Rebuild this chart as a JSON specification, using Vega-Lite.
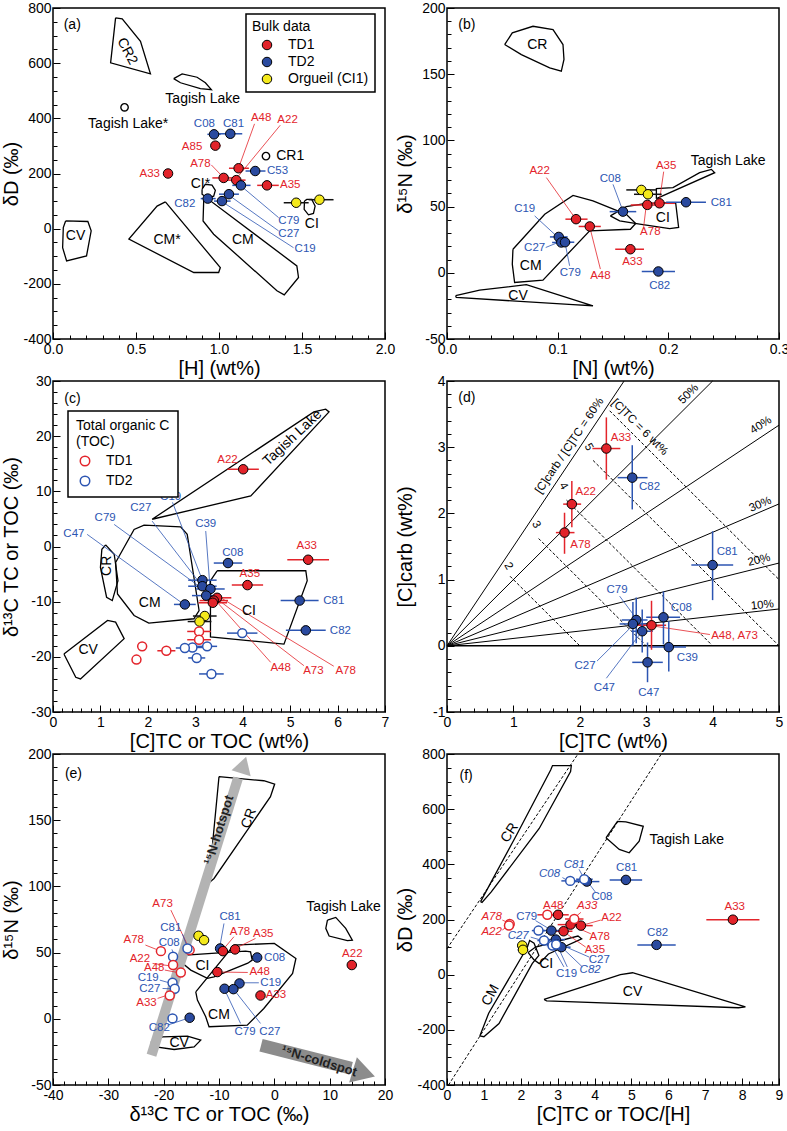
{
"$schema":"https://vega.github.io/schema/vega-lite/v6.json",
"background":"white",
"padding":{"left":0,"top":0,"right":0,"bottom":0},
"config":{
 "font":"Liberation Sans",
 "view":{"stroke":"black","strokeWidth":1.5},
 "axis":{"grid":false,"domain":false,"labelOverlap":false,"labelFlush":false,"tickSize":-7,"tickColor":"black","tickWidth":1,"labelFont":"Liberation Sans","labelFontSize":14,"labelColor":"black","titleFont":"Liberation Sans","titleFontSize":20,"titleFontWeight":"normal","titleColor":"black"},
 "axisX":{"labelPadding":10,"titlePadding":4,"minExtent":15,"maxExtent":15},
 "axisY":{"labelPadding":9,"titlePadding":0,"minExtent":32,"maxExtent":32},
 "legend":{"labelFont":"Liberation Sans","titleFont":"Liberation Sans","labelFontSize":14,"titleFontSize":14,"titleFontWeight":"normal","labelColor":"black","titleColor":"black","strokeWidth":1.5},
 "text":{"font":"Liberation Sans"}
},
"datasets":{
"poly":[
{"p":"a","r":"CR2","x":0.377,"y":764},{"p":"a","r":"CR2","x":0.347,"y":601},{"p":"a","r":"CR2","x":0.587,"y":561},{"p":"a","r":"CR2","x":0.527,"y":679},{"p":"a","r":"CR2","x":0.417,"y":761},{"p":"a","r":"CR2","x":0.377,"y":764},
{"p":"a","r":"TL","x":0.727,"y":544},{"p":"a","r":"TL","x":0.778,"y":561},{"p":"a","r":"TL","x":0.868,"y":549},{"p":"a","r":"TL","x":0.918,"y":529},{"p":"a","r":"TL","x":0.954,"y":504},{"p":"a","r":"TL","x":0.888,"y":508},{"p":"a","r":"TL","x":0.768,"y":529},{"p":"a","r":"TL","x":0.727,"y":544},
{"p":"a","r":"CV","x":0.076,"y":28},{"p":"a","r":"CV","x":0.21,"y":26},{"p":"a","r":"CV","x":0.23,"y":-8},{"p":"a","r":"CV","x":0.202,"y":-99},{"p":"a","r":"CV","x":0.082,"y":-117},{"p":"a","r":"CV","x":0.058,"y":-69},{"p":"a","r":"CV","x":0.062,"y":4},{"p":"a","r":"CV","x":0.076,"y":28},
{"p":"a","r":"CMs","x":0.677,"y":97},{"p":"a","r":"CMs","x":1.008,"y":-141},{"p":"a","r":"CMs","x":0.998,"y":-159},{"p":"a","r":"CMs","x":0.848,"y":-159},{"p":"a","r":"CMs","x":0.457,"y":-38},{"p":"a","r":"CMs","x":0.627,"y":82},{"p":"a","r":"CMs","x":0.677,"y":97},
{"p":"a","r":"CM","x":0.908,"y":106},{"p":"a","r":"CM","x":0.944,"y":103},{"p":"a","r":"CM","x":1.469,"y":-135},{"p":"a","r":"CM","x":1.479,"y":-177},{"p":"a","r":"CM","x":1.393,"y":-240},{"p":"a","r":"CM","x":1.349,"y":-225},{"p":"a","r":"CM","x":0.968,"y":-20},{"p":"a","r":"CM","x":0.904,"y":28},{"p":"a","r":"CM","x":0.908,"y":106},
{"p":"a","r":"CIs","x":0.898,"y":143},{"p":"a","r":"CIs","x":0.918,"y":161},{"p":"a","r":"CIs","x":0.958,"y":158},{"p":"a","r":"CIs","x":0.978,"y":139},{"p":"a","r":"CIs","x":0.968,"y":118},{"p":"a","r":"CIs","x":0.928,"y":112},{"p":"a","r":"CIs","x":0.898,"y":125},{"p":"a","r":"CIs","x":0.898,"y":143},
{"p":"a","r":"CI","x":1.515,"y":100},{"p":"a","r":"CI","x":1.529,"y":106},{"p":"a","r":"CI","x":1.559,"y":106},{"p":"a","r":"CI","x":1.579,"y":82},{"p":"a","r":"CI","x":1.569,"y":55},{"p":"a","r":"CI","x":1.539,"y":50},{"p":"a","r":"CI","x":1.513,"y":70},{"p":"a","r":"CI","x":1.515,"y":100},
{"p":"b","r":"CR","x":0.0521,"y":172.4},{"p":"b","r":"CR","x":0.059,"y":181.2},{"p":"b","r":"CR","x":0.0777,"y":186.2},{"p":"b","r":"CR","x":0.0958,"y":183.7},{"p":"b","r":"CR","x":0.1048,"y":172.4},{"p":"b","r":"CR","x":0.1057,"y":161.1},{"p":"b","r":"CR","x":0.1033,"y":152.3},{"p":"b","r":"CR","x":0.0928,"y":154.8},{"p":"b","r":"CR","x":0.0672,"y":164.8},{"p":"b","r":"CR","x":0.0521,"y":172.4},
{"p":"b","r":"TL","x":0.1892,"y":56},{"p":"b","r":"TL","x":0.2419,"y":75.6},{"p":"b","r":"TL","x":0.2389,"y":78.1},{"p":"b","r":"TL","x":0.2283,"y":75.6},{"p":"b","r":"TL","x":0.2042,"y":64.3},{"p":"b","r":"TL","x":0.1892,"y":63.6},{"p":"b","r":"TL","x":0.1892,"y":56},
{"p":"b","r":"CI","x":0.1476,"y":43},{"p":"b","r":"CI","x":0.162,"y":50},{"p":"b","r":"CI","x":0.18,"y":52.5},{"p":"b","r":"CI","x":0.2066,"y":53},{"p":"b","r":"CI","x":0.2093,"y":34.2},{"p":"b","r":"CI","x":0.2012,"y":33.4},{"p":"b","r":"CI","x":0.1741,"y":36.7},{"p":"b","r":"CI","x":0.156,"y":39.2},{"p":"b","r":"CI","x":0.1476,"y":43},
{"p":"b","r":"CM","x":0.0596,"y":17.8},{"p":"b","r":"CM","x":0.0883,"y":44.2},{"p":"b","r":"CM","x":0.1139,"y":58.5},{"p":"b","r":"CM","x":0.1319,"y":54.3},{"p":"b","r":"CM","x":0.162,"y":44.2},{"p":"b","r":"CM","x":0.1705,"y":37.2},{"p":"b","r":"CM","x":0.1657,"y":32.9},{"p":"b","r":"CM","x":0.1289,"y":31.7},{"p":"b","r":"CM","x":0.0867,"y":-5.5},{"p":"b","r":"CM","x":0.0611,"y":-7.3},{"p":"b","r":"CM","x":0.059,"y":6.5},{"p":"b","r":"CM","x":0.0596,"y":17.8},
{"p":"b","r":"CV","x":0.0078,"y":-17.3},{"p":"b","r":"CV","x":0.0295,"y":-13.1},{"p":"b","r":"CV","x":0.0717,"y":-9},{"p":"b","r":"CV","x":0.1319,"y":-24.9},{"p":"b","r":"CV","x":0.1139,"y":-24.1},{"p":"b","r":"CV","x":0.0084,"y":-18.6},{"p":"b","r":"CV","x":0.0078,"y":-17.3},
{"p":"c","r":"TL","x":2.09,"y":4.94},{"p":"c","r":"TL","x":5.5,"y":24.4},{"p":"c","r":"TL","x":5.75,"y":24.9},{"p":"c","r":"TL","x":5.82,"y":24.4},{"p":"c","r":"TL","x":4.17,"y":9.16},{"p":"c","r":"TL","x":2.09,"y":4.94},
{"p":"c","r":"CM","x":1.32,"y":-2.9},{"p":"c","r":"CM","x":1.71,"y":3.1},{"p":"c","r":"CM","x":1.92,"y":3.86},{"p":"c","r":"CM","x":2.69,"y":3.55},{"p":"c","r":"CM","x":2.83,"y":2.2},{"p":"c","r":"CM","x":3.08,"y":-11.6},{"p":"c","r":"CM","x":2.97,"y":-13.1},{"p":"c","r":"CM","x":2.02,"y":-13.9},{"p":"c","r":"CM","x":1.71,"y":-12.5},{"p":"c","r":"CM","x":1.36,"y":-8.6},{"p":"c","r":"CM","x":1.32,"y":-2.9},
{"p":"c","r":"CR","x":1.11,"y":0.3},{"p":"c","r":"CR","x":1.29,"y":-1.4},{"p":"c","r":"CR","x":1.37,"y":-6.2},{"p":"c","r":"CR","x":1.25,"y":-9.8},{"p":"c","r":"CR","x":1.13,"y":-9.2},{"p":"c","r":"CR","x":1,"y":-3.8},{"p":"c","r":"CR","x":1.03,"y":-0.5},{"p":"c","r":"CR","x":1.11,"y":0.3},
{"p":"c","r":"CI","x":3.46,"y":-4.4},{"p":"c","r":"CI","x":5.33,"y":-4.4},{"p":"c","r":"CI","x":5.36,"y":-6.2},{"p":"c","r":"CI","x":4.87,"y":-17.7},{"p":"c","r":"CI","x":3.32,"y":-16.4},{"p":"c","r":"CI","x":3.32,"y":-6.2},{"p":"c","r":"CI","x":3.46,"y":-4.4},
{"p":"c","r":"CV","x":0.23,"y":-19.5},{"p":"c","r":"CV","x":1.15,"y":-13.4},{"p":"c","r":"CV","x":1.32,"y":-13.7},{"p":"c","r":"CV","x":1.5,"y":-16.7},{"p":"c","r":"CV","x":0.58,"y":-24},{"p":"c","r":"CV","x":0.48,"y":-23.7},{"p":"c","r":"CV","x":0.23,"y":-19.5},
{"p":"e","r":"CR","x":-10,"y":182.9},{"p":"e","r":"CR","x":-1.9,"y":179.8},{"p":"e","r":"CR","x":0.06,"y":177.3},{"p":"e","r":"CR","x":-0.7,"y":167.8},{"p":"e","r":"CR","x":-10.9,"y":106},{"p":"e","r":"CR","x":-11.8,"y":102.8},{"p":"e","r":"CR","x":-11.5,"y":117.4},{"p":"e","r":"CR","x":-10,"y":182.9},
{"p":"e","r":"TL","x":9.6,"y":74.6},{"p":"e","r":"TL","x":11.1,"y":76.6},{"p":"e","r":"TL","x":12.9,"y":68.3},{"p":"e","r":"TL","x":14.1,"y":59.4},{"p":"e","r":"TL","x":13.2,"y":59},{"p":"e","r":"TL","x":9.9,"y":62.5},{"p":"e","r":"TL","x":9.3,"y":68.3},{"p":"e","r":"TL","x":9.6,"y":74.6},
{"p":"e","r":"CI","x":-16.7,"y":42.3},{"p":"e","r":"CI","x":-16,"y":48.1},{"p":"e","r":"CI","x":-5.2,"y":51.1},{"p":"e","r":"CI","x":-4.3,"y":50.6},{"p":"e","r":"CI","x":-4,"y":44.3},{"p":"e","r":"CI","x":-4.8,"y":42},{"p":"e","r":"CI","x":-10.9,"y":31.7},{"p":"e","r":"CI","x":-12.1,"y":30.5},{"p":"e","r":"CI","x":-15.1,"y":36.8},{"p":"e","r":"CI","x":-16.7,"y":42.3},
{"p":"e","r":"CM","x":-14.2,"y":20.4},{"p":"e","r":"CM","x":-7.3,"y":55.7},{"p":"e","r":"CM","x":0,"y":56.9},{"p":"e","r":"CM","x":3.9,"y":45.6},{"p":"e","r":"CM","x":3.3,"y":34.3},{"p":"e","r":"CM","x":-1.9,"y":7.8},{"p":"e","r":"CM","x":-4.9,"y":-4.8},{"p":"e","r":"CM","x":-11.8,"y":-6},{"p":"e","r":"CM","x":-12.4,"y":1.5},{"p":"e","r":"CM","x":-13.9,"y":14.1},{"p":"e","r":"CM","x":-14.2,"y":20.4},
{"p":"e","r":"CV","x":-22.3,"y":-17.4},{"p":"e","r":"CV","x":-20.2,"y":-13.6},{"p":"e","r":"CV","x":-15.7,"y":-13.1},{"p":"e","r":"CV","x":-13.3,"y":-16.1},{"p":"e","r":"CV","x":-14.5,"y":-21.2},{"p":"e","r":"CV","x":-18.1,"y":-23.2},{"p":"e","r":"CV","x":-21.4,"y":-21.2},{"p":"e","r":"CV","x":-22.3,"y":-17.4},
{"p":"f","r":"CR","x":0.91,"y":265},{"p":"f","r":"CR","x":1.9,"y":510},{"p":"f","r":"CR","x":2.81,"y":742},{"p":"f","r":"CR","x":2.86,"y":758},{"p":"f","r":"CR","x":3.37,"y":758},{"p":"f","r":"CR","x":3.35,"y":736},{"p":"f","r":"CR","x":2.5,"y":530},{"p":"f","r":"CR","x":1.2,"y":300},{"p":"f","r":"CR","x":0.95,"y":262},{"p":"f","r":"CR","x":0.91,"y":265},
{"p":"f","r":"CM","x":0.89,"y":-222},{"p":"f","r":"CM","x":1.13,"y":-140},{"p":"f","r":"CM","x":2.18,"y":100},{"p":"f","r":"CM","x":2.24,"y":124},{"p":"f","r":"CM","x":2.36,"y":114},{"p":"f","r":"CM","x":2.49,"y":70},{"p":"f","r":"CM","x":2.31,"y":40},{"p":"f","r":"CM","x":1.41,"y":-177},{"p":"f","r":"CM","x":1,"y":-225},{"p":"f","r":"CM","x":0.89,"y":-222},
{"p":"f","r":"CI","x":2.2,"y":80},{"p":"f","r":"CI","x":2.4,"y":100},{"p":"f","r":"CI","x":3.55,"y":140},{"p":"f","r":"CI","x":3.65,"y":130},{"p":"f","r":"CI","x":2.75,"y":75},{"p":"f","r":"CI","x":2.5,"y":40},{"p":"f","r":"CI","x":2.35,"y":55},{"p":"f","r":"CI","x":2.2,"y":80},
{"p":"f","r":"TL","x":4.31,"y":496},{"p":"f","r":"TL","x":4.62,"y":556},{"p":"f","r":"TL","x":4.85,"y":554},{"p":"f","r":"TL","x":5.32,"y":538},{"p":"f","r":"TL","x":5.21,"y":484},{"p":"f","r":"TL","x":4.94,"y":442},{"p":"f","r":"TL","x":4.67,"y":454},{"p":"f","r":"TL","x":4.31,"y":496},
{"p":"f","r":"CV","x":2.63,"y":-90},{"p":"f","r":"CV","x":4.7,"y":0},{"p":"f","r":"CV","x":5.03,"y":7},{"p":"f","r":"CV","x":8.09,"y":-117},{"p":"f","r":"CV","x":7.9,"y":-120},{"p":"f","r":"CV","x":2.7,"y":-95},{"p":"f","r":"CV","x":2.63,"y":-90}
],
"mk":[{"p":"a","x":1.283,"y":263},{"p":"a","x":0.431,"y":440}],
"seg":[
{"p":"a","g":"TD1","x":1.214,"y":380,"x2":1.122,"y2":227},{"p":"a","g":"TD1","x":1.369,"y":375,"x2":1.112,"y2":187},{"p":"a","g":"TD1","x":0.954,"y":231,"x2":1.018,"y2":191},{"p":"a","g":"TD2","x":1.359,"y":40,"x2":1.144,"y2":149},{"p":"a","g":"TD2","x":1.359,"y":-8,"x2":1.072,"y2":116},{"p":"a","g":"TD2","x":1.449,"y":-69,"x2":1.028,"y2":94},
{"p":"b","g":"TD1","x":0.0898,"y":71.9,"x2":0.1154,"y2":41.7},{"p":"b","g":"TD2","x":0.15,"y":66.8,"x2":0.1584,"y2":48},{"p":"b","g":"TD1","x":0.1958,"y":76.4,"x2":0.192,"y2":54.3},{"p":"b","g":"TD2","x":0.0792,"y":43,"x2":0.0988,"y2":27.9},{"p":"b","g":"TD1","x":0.1777,"y":34.7,"x2":0.18,"y2":50.5},{"p":"b","g":"TD2","x":0.0892,"y":19.1,"x2":0.1003,"y2":22.9},{"p":"b","g":"TD2","x":0.1108,"y":5.3,"x2":0.1069,"y2":21.6},{"p":"b","g":"TD1","x":0.1386,"y":2.8,"x2":0.1295,"y2":32.9},
{"p":"c","g":"TD2","x":2.52,"y":8,"x2":3.14,"y2":-5.9},{"p":"c","g":"TD2","x":2.09,"y":4.6,"x2":3.11,"y2":-6.8},{"p":"c","g":"TD2","x":1.29,"y":4,"x2":3.11,"y2":-7.4},{"p":"c","g":"TD2","x":0.72,"y":2.2,"x2":2.73,"y2":-10.3},{"p":"c","g":"TD2","x":3.22,"y":2.8,"x2":3.31,"y2":-7.4},{"p":"c","g":"TD1","x":4.59,"y":-21,"x2":3.43,"y2":-9.8},{"p":"c","g":"TD1","x":5.29,"y":-21.6,"x2":3.46,"y2":-9.5},{"p":"c","g":"TD1","x":5.92,"y":-21.7,"x2":3.5,"y2":-9.1},
{"p":"d","g":"TD2","x":2.6,"y":0.75,"x2":2.83,"y2":0.44},{"p":"d","g":"TD1","x":3.96,"y":0.17,"x2":3.1,"y2":0.3},{"p":"d","g":"TD2","x":2.26,"y":-0.23,"x2":2.78,"y2":0.29},{"p":"d","g":"TD2","x":2.4,"y":-0.49,"x2":2.9,"y2":0.17},
{"p":"e","g":"TD1","x":-18.7,"y":82.1,"x2":-15.4,"y2":53.1},{"p":"e","g":"TD2","x":-16.6,"y":64,"x2":-15.8,"y2":54.9},{"p":"e","g":"TD1","x":-23.3,"y":55.7,"x2":-21.3,"y2":52.4},{"p":"e","g":"TD2","x":-18.5,"y":52.4,"x2":-18.2,"y2":49},{"p":"e","g":"TD1","x":-22,"y":41.8,"x2":-19,"y2":40.1},{"p":"e","g":"TD1","x":-19.8,"y":36.8,"x2":-17.5,"y2":35},{"p":"e","g":"TD2","x":-20.7,"y":29.2,"x2":-19,"y2":27.2},{"p":"e","g":"TD2","x":-20.2,"y":22.9,"x2":-18.7,"y2":22.7},{"p":"e","g":"TD1","x":-21.1,"y":15.4,"x2":-19.5,"y2":17.6},{"p":"e","g":"TD2","x":-19.3,"y":-4.8,"x2":-15.7,"y2":0.3},{"p":"e","g":"TD2","x":-9.1,"y":72,"x2":-9.8,"y2":55.7},{"p":"e","g":"TD1","x":-7.3,"y":62,"x2":-9.1,"y2":53.1},{"p":"e","g":"TD1","x":-3.4,"y":60.7,"x2":-6.7,"y2":53.9},{"p":"e","g":"TD1","x":-4.8,"y":35,"x2":-9.7,"y2":35.3},{"p":"e","g":"TD2","x":-2.8,"y":27.2,"x2":-5.5,"y2":27.2},{"p":"e","g":"TD2","x":-6.1,"y":-3.5,"x2":-8.8,"y2":20.4},{"p":"e","g":"TD2","x":-2.5,"y":-3.5,"x2":-7,"y2":20.4},
{"p":"f","g":"TD2","x":3.58,"y":382,"x2":3.7,"y2":352},{"p":"f","g":"TD2","x":3.13,"y":352,"x2":3.26,"y2":342},{"p":"f","g":"TD2","x":4.03,"y":298,"x2":3.85,"y2":330},{"p":"f","g":"TD1","x":3.63,"y":226,"x2":3.47,"y2":208},{"p":"f","g":"TD1","x":4.17,"y":198,"x2":3.72,"y2":181},{"p":"f","g":"TD1","x":1.5,"y":198,"x2":1.63,"y2":190},{"p":"f","g":"TD1","x":1.5,"y":162,"x2":1.63,"y2":174},{"p":"f","g":"TD2","x":2.4,"y":196,"x2":2.77,"y2":166},{"p":"f","g":"TD1","x":3.9,"y":148,"x2":3.49,"y2":172},{"p":"f","g":"TD2","x":2.27,"y":136,"x2":2.58,"y2":124},{"p":"f","g":"TD1","x":3.76,"y":100,"x2":3.22,"y2":150},{"p":"f","g":"TD2","x":3.85,"y":64,"x2":3.13,"y2":106},{"p":"f","g":"TD2","x":3.67,"y":28,"x2":3.13,"y2":97},{"p":"f","g":"TD2","x":3.17,"y":28,"x2":2.86,"y2":100},{"p":"f","g":"TD2","x":3.26,"y":28,"x2":2.99,"y2":106}
],
"errh":[
{"p":"a","g":"TD2","y":342,"x":0.93,"x2":1.01},{"p":"a","g":"TD2","y":344,"x":1.0,"x2":1.14},{"p":"a","g":"TD1","y":301,"x":0.95,"x2":1.01},{"p":"a","g":"TD1","y":219,"x":1.06,"x2":1.18},{"p":"a","g":"TD2","y":209,"x":1.16,"x2":1.28},{"p":"a","g":"TD1","y":184,"x":0.96,"x2":1.1},{"p":"a","g":"TD1","y":176,"x":1.05,"x2":1.16},{"p":"a","g":"TD1","y":157,"x":1.23,"x2":1.36},{"p":"a","g":"TD2","y":157,"x":1.08,"x2":1.19},{"p":"a","g":"TD2","y":125,"x":1.0,"x2":1.12},{"p":"a","g":"TD2","y":100,"x":0.97,"x2":1.07},{"p":"a","g":"TD2","y":109,"x":0.89,"x2":0.98},{"p":"a","g":"Orgueil (CI1)","y":94,"x":1.39,"x2":1.54},{"p":"a","g":"Orgueil (CI1)","y":105,"x":1.54,"x2":1.69},
{"p":"b","g":"Orgueil (CI1)","y":62.6,"x":0.162,"x2":0.189},{"p":"b","g":"Orgueil (CI1)","y":59.3,"x":0.169,"x2":0.194},{"p":"b","g":"TD1","y":51.3,"x":0.166,"x2":0.195},{"p":"b","g":"TD1","y":52.5,"x":0.178,"x2":0.206},{"p":"b","g":"TD2","y":53.3,"x":0.198,"x2":0.234},{"p":"b","g":"TD2","y":46.2,"x":0.147,"x2":0.171},{"p":"b","g":"TD1","y":40.5,"x":0.107,"x2":0.127},{"p":"b","g":"TD1","y":35,"x":0.119,"x2":0.139},{"p":"b","g":"TD2","y":27.1,"x":0.093,"x2":0.109},{"p":"b","g":"TD2","y":22.9,"x":0.095,"x2":0.112},{"p":"b","g":"TD2","y":23.1,"x":0.098,"x2":0.115},{"p":"b","g":"TD1","y":17.8,"x":0.152,"x2":0.178},{"p":"b","g":"TD2","y":1,"x":0.176,"x2":0.206},
{"p":"c","g":"TD1","y":14,"x":3.68,"x2":4.34},{"p":"c","g":"TD1","y":-2.4,"x":4.94,"x2":5.82},{"p":"c","g":"TD1","y":-7,"x":3.77,"x2":4.43},{"p":"c","g":"TD2","y":-3,"x":3.39,"x2":3.99},{"p":"c","g":"TD2","y":-9.8,"x":4.8,"x2":5.6},{"p":"c","g":"TD2","y":-15.2,"x":4.91,"x2":5.75},{"p":"c","g":"TD2","y":-10.5,"x":2.55,"x2":3.01},{"p":"c","g":"TD2","y":-6.1,"x":2.85,"x2":3.45},{"p":"c","g":"TD2","y":-7.2,"x":2.85,"x2":3.45},{"p":"c","g":"TD2","y":-7.7,"x":3.02,"x2":3.62},{"p":"c","g":"TD2","y":-8.9,"x":2.93,"x2":3.53},{"p":"c","g":"TD1","y":-9.3,"x":3.16,"x2":3.76},{"p":"c","g":"TD1","y":-9.8,"x":3.09,"x2":3.69},{"p":"c","g":"TD1","y":-10.2,"x":3.07,"x2":3.67},{"p":"c","g":"Orgueil (CI1)","y":-12.6,"x":2.95,"x2":3.45},{"p":"c","g":"Orgueil (CI1)","y":-13.6,"x":2.84,"x2":3.34},
{"p":"c","g":"TD1","y":-15.4,"x":2.83,"x2":3.33},{"p":"c","g":"TD1","y":-16.9,"x":2.83,"x2":3.33},{"p":"c","g":"TD1","y":-18.1,"x":1.8,"x2":1.96},{"p":"c","g":"TD1","y":-18.9,"x":2.2,"x2":2.58},{"p":"c","g":"TD1","y":-20.5,"x":1.68,"x2":1.84},{"p":"c","g":"TD2","y":-15.7,"x":3.67,"x2":4.31},{"p":"c","g":"TD2","y":-18.1,"x":3.04,"x2":3.46},{"p":"c","g":"TD2","y":-18.3,"x":2.7,"x2":3.18},{"p":"c","g":"TD2","y":-18.4,"x":2.59,"x2":2.97},{"p":"c","g":"TD2","y":-20.2,"x":2.85,"x2":3.21},{"p":"c","g":"TD2","y":-23.1,"x":3.08,"x2":3.6},
{"p":"d","g":"TD1","y":2.98,"x":2.19,"x2":2.61},{"p":"d","g":"TD2","y":2.54,"x":2.57,"x2":3.02},{"p":"d","g":"TD1","y":2.14,"x":1.75,"x2":2.02},{"p":"d","g":"TD1","y":1.71,"x":1.64,"x2":1.92},{"p":"d","g":"TD2","y":1.22,"x":3.68,"x2":4.31},{"p":"d","g":"TD2","y":0.39,"x":2.63,"x2":3.02},{"p":"d","g":"TD2","y":0.33,"x":2.6,"x2":3.0},{"p":"d","g":"TD2","y":0.43,"x":3.0,"x2":3.51},{"p":"d","g":"TD1","y":0.31,"x":2.8,"x2":3.3},{"p":"d","g":"TD2","y":0.22,"x":2.78,"x2":3.1},{"p":"d","g":"TD2","y":-0.02,"x":3.05,"x2":3.6},{"p":"d","g":"TD2","y":-0.25,"x":2.79,"x2":3.25},
{"p":"f","g":"TD1","y":199.4,"x":7.03,"x2":8.47},{"p":"f","g":"TD2","y":108,"x":5.16,"x2":6.2},{"p":"f","g":"TD2","y":343.5,"x":4.41,"x2":5.29},{"p":"f","g":"TD2","y":337.5,"x":3.45,"x2":4.13},{"p":"f","g":"TD1","y":217,"x":2.75,"x2":3.3},{"p":"f","g":"TD1","y":181.4,"x":3.0,"x2":3.7},{"p":"f","g":"TD1","y":177.8,"x":3.3,"x2":3.95},{"p":"f","g":"TD1","y":157.4,"x":2.9,"x2":3.4},{"p":"f","g":"TD2","y":159.8,"x":2.6,"x2":3.05},{"p":"f","g":"TD2","y":127.3,"x":2.7,"x2":3.2},{"p":"f","g":"TD2","y":109.3,"x":2.75,"x2":3.2},{"p":"f","g":"TD2","y":99.7,"x":2.85,"x2":3.35},{"p":"f","g":"Orgueil (CI1)","y":105.7,"x":1.9,"x2":2.18},{"p":"f","g":"Orgueil (CI1)","y":90.1,"x":1.92,"x2":2.2},
{"p":"f","g":"TD2","y":340,"x":3.1,"x2":3.6},{"p":"f","g":"TD2","y":346,"x":3.5,"x2":3.95},{"p":"f","g":"TD1","y":217,"x":2.45,"x2":2.95},{"p":"f","g":"TD1","y":201.8,"x":3.2,"x2":3.7},{"p":"f","g":"TD1","y":183.8,"x":1.6,"x2":1.8},{"p":"f","g":"TD2","y":159.8,"x":2.3,"x2":2.65},{"p":"f","g":"TD2","y":123.7,"x":2.45,"x2":2.8},{"p":"f","g":"TD2","y":105.7,"x":2.7,"x2":3.0}
],
"errv":[
{"p":"d","g":"TD1","x":2.4,"y":2.51,"y2":3.45},{"p":"d","g":"TD2","x":2.79,"y":2.06,"y2":3.03},{"p":"d","g":"TD1","x":1.88,"y":1.79,"y2":2.49},{"p":"d","g":"TD1","x":1.77,"y":1.39,"y2":2.01},{"p":"d","g":"TD2","x":4.0,"y":0.69,"y2":1.73},{"p":"d","g":"TD2","x":2.85,"y":0.04,"y2":0.73},{"p":"d","g":"TD2","x":2.8,"y":0.0,"y2":0.66},{"p":"d","g":"TD2","x":3.26,"y":0.02,"y2":0.82},{"p":"d","g":"TD1","x":3.08,"y":-0.06,"y2":0.68},{"p":"d","g":"TD2","x":2.94,"y":-0.1,"y2":0.55},{"p":"d","g":"TD2","x":3.34,"y":-0.39,"y2":0.37},{"p":"d","g":"TD2","x":3.02,"y":-0.55,"y2":0.05}
],
"pts":[
{"p":"a","g":"TD2","t":"f","x":0.97,"y":342},{"p":"a","g":"TD2","t":"f","x":1.068,"y":344},{"p":"a","g":"TD1","t":"f","x":0.978,"y":301},{"p":"a","g":"TD1","t":"f","x":0.693,"y":200},{"p":"a","g":"TD1","t":"f","x":1.118,"y":219},{"p":"a","g":"TD2","t":"f","x":1.218,"y":209},{"p":"a","g":"TD1","t":"f","x":1.028,"y":184},{"p":"a","g":"TD1","t":"f","x":1.104,"y":176},{"p":"a","g":"TD1","t":"f","x":1.289,"y":157},{"p":"a","g":"TD2","t":"f","x":1.132,"y":157},{"p":"a","g":"TD2","t":"f","x":1.06,"y":125},{"p":"a","g":"TD2","t":"f","x":1.018,"y":100},{"p":"a","g":"TD2","t":"f","x":0.932,"y":109},{"p":"a","g":"Orgueil (CI1)","t":"f","x":1.465,"y":94},{"p":"a","g":"Orgueil (CI1)","t":"f","x":1.605,"y":105},
{"p":"b","g":"Orgueil (CI1)","t":"f","x":0.1756,"y":62.6},{"p":"b","g":"Orgueil (CI1)","t":"f","x":0.1816,"y":59.3},{"p":"b","g":"TD1","t":"f","x":0.181,"y":51.3},{"p":"b","g":"TD1","t":"f","x":0.192,"y":52.5},{"p":"b","g":"TD2","t":"f","x":0.216,"y":53.3},{"p":"b","g":"TD2","t":"f","x":0.159,"y":46.2},{"p":"b","g":"TD1","t":"f","x":0.1166,"y":40.5},{"p":"b","g":"TD1","t":"f","x":0.129,"y":35},{"p":"b","g":"TD2","t":"f","x":0.101,"y":27.1},{"p":"b","g":"TD2","t":"f","x":0.1033,"y":22.9},{"p":"b","g":"TD2","t":"f","x":0.1066,"y":23.1},{"p":"b","g":"TD1","t":"f","x":0.1657,"y":17.8},{"p":"b","g":"TD2","t":"f","x":0.191,"y":1},
{"p":"c","g":"TD1","t":"f","x":4.01,"y":14},{"p":"c","g":"TD1","t":"f","x":5.38,"y":-2.4},{"p":"c","g":"TD1","t":"f","x":4.1,"y":-7},{"p":"c","g":"TD2","t":"f","x":3.69,"y":-3},{"p":"c","g":"TD2","t":"f","x":5.2,"y":-9.8},{"p":"c","g":"TD2","t":"f","x":5.33,"y":-15.2},{"p":"c","g":"TD2","t":"f","x":2.78,"y":-10.5},{"p":"c","g":"TD2","t":"f","x":3.15,"y":-6.1},{"p":"c","g":"TD2","t":"f","x":3.15,"y":-7.2},{"p":"c","g":"TD2","t":"f","x":3.32,"y":-7.7},{"p":"c","g":"TD2","t":"f","x":3.23,"y":-8.9},{"p":"c","g":"TD1","t":"f","x":3.46,"y":-9.3},{"p":"c","g":"TD1","t":"f","x":3.39,"y":-9.8},{"p":"c","g":"TD1","t":"f","x":3.37,"y":-10.2},{"p":"c","g":"Orgueil (CI1)","t":"f","x":3.2,"y":-12.6},{"p":"c","g":"Orgueil (CI1)","t":"f","x":3.09,"y":-13.6},
{"p":"c","g":"TD1","t":"o","x":3.08,"y":-15.4},{"p":"c","g":"TD1","t":"o","x":3.08,"y":-16.9},{"p":"c","g":"TD1","t":"o","x":1.88,"y":-18.1},{"p":"c","g":"TD1","t":"o","x":2.39,"y":-18.9},{"p":"c","g":"TD1","t":"o","x":1.76,"y":-20.5},{"p":"c","g":"TD2","t":"o","x":3.99,"y":-15.7},{"p":"c","g":"TD2","t":"o","x":3.25,"y":-18.1},{"p":"c","g":"TD2","t":"o","x":2.94,"y":-18.3},{"p":"c","g":"TD2","t":"o","x":2.78,"y":-18.4},{"p":"c","g":"TD2","t":"o","x":3.03,"y":-20.2},{"p":"c","g":"TD2","t":"o","x":3.34,"y":-23.1},
{"p":"d","g":"TD1","t":"f","x":2.4,"y":2.98},{"p":"d","g":"TD2","t":"f","x":2.79,"y":2.54},{"p":"d","g":"TD1","t":"f","x":1.88,"y":2.14},{"p":"d","g":"TD1","t":"f","x":1.77,"y":1.71},{"p":"d","g":"TD2","t":"f","x":4.0,"y":1.22},{"p":"d","g":"TD2","t":"f","x":2.85,"y":0.39},{"p":"d","g":"TD2","t":"f","x":2.8,"y":0.33},{"p":"d","g":"TD2","t":"f","x":3.26,"y":0.43},{"p":"d","g":"TD1","t":"f","x":3.08,"y":0.31},{"p":"d","g":"TD2","t":"f","x":2.94,"y":0.22},{"p":"d","g":"TD2","t":"f","x":3.34,"y":-0.02},{"p":"d","g":"TD2","t":"f","x":3.02,"y":-0.25},
{"p":"e","g":"Orgueil (CI1)","t":"f","x":-13.7,"y":62.7},{"p":"e","g":"Orgueil (CI1)","t":"f","x":-12.7,"y":59.4},{"p":"e","g":"TD2","t":"f","x":-9.8,"y":53.1},{"p":"e","g":"TD1","t":"f","x":-9.3,"y":51.1},{"p":"e","g":"TD1","t":"f","x":-7.1,"y":52.4},{"p":"e","g":"TD2","t":"f","x":-3.1,"y":46.3},{"p":"e","g":"TD1","t":"f","x":-10.3,"y":35.3},{"p":"e","g":"TD2","t":"f","x":-6.3,"y":26.7},{"p":"e","g":"TD2","t":"f","x":-9,"y":22.7},{"p":"e","g":"TD2","t":"f","x":-7.4,"y":22.4},{"p":"e","g":"TD1","t":"f","x":-2.5,"y":17.6},{"p":"e","g":"TD1","t":"f","x":14,"y":40.6},{"p":"e","g":"TD2","t":"f","x":-15.3,"y":0.8},
{"p":"e","g":"TD1","t":"o","x":-20.5,"y":51.1},{"p":"e","g":"TD2","t":"o","x":-18.3,"y":46.9},{"p":"e","g":"TD1","t":"o","x":-15.3,"y":51.9},{"p":"e","g":"TD2","t":"o","x":-15.7,"y":53.1},{"p":"e","g":"TD1","t":"o","x":-18.3,"y":40.6},{"p":"e","g":"TD1","t":"o","x":-16.9,"y":35},{"p":"e","g":"TD2","t":"o","x":-18.4,"y":27.2},{"p":"e","g":"TD2","t":"o","x":-18,"y":22.7},{"p":"e","g":"TD1","t":"o","x":-18.9,"y":17.6},{"p":"e","g":"TD2","t":"o","x":-18.4,"y":0.3},
{"p":"f","g":"TD1","t":"f","x":7.75,"y":199.4},{"p":"f","g":"TD2","t":"f","x":5.68,"y":108},{"p":"f","g":"TD2","t":"f","x":4.85,"y":343.5},{"p":"f","g":"TD2","t":"f","x":3.79,"y":337.5},{"p":"f","g":"TD1","t":"f","x":3.01,"y":217},{"p":"f","g":"TD1","t":"f","x":3.35,"y":181.4},{"p":"f","g":"TD1","t":"f","x":3.63,"y":177.8},{"p":"f","g":"TD1","t":"f","x":3.16,"y":157.4},{"p":"f","g":"TD2","t":"f","x":2.83,"y":159.8},{"p":"f","g":"TD2","t":"f","x":2.95,"y":127.3},{"p":"f","g":"TD2","t":"f","x":2.97,"y":109.3},{"p":"f","g":"TD2","t":"f","x":3.1,"y":99.7},{"p":"f","g":"Orgueil (CI1)","t":"f","x":2.04,"y":105.7},{"p":"f","g":"Orgueil (CI1)","t":"f","x":2.06,"y":90.1},
{"p":"f","g":"TD2","t":"o","x":3.34,"y":340},{"p":"f","g":"TD2","t":"o","x":3.72,"y":346},{"p":"f","g":"TD1","t":"o","x":2.72,"y":217},{"p":"f","g":"TD1","t":"o","x":3.45,"y":201.8},{"p":"f","g":"TD1","t":"o","x":1.7,"y":183.8},{"p":"f","g":"TD1","t":"o","x":1.68,"y":178},{"p":"f","g":"TD2","t":"o","x":2.48,"y":159.8},{"p":"f","g":"TD2","t":"o","x":2.63,"y":123.7},{"p":"f","g":"TD2","t":"o","x":2.86,"y":105.7},{"p":"f","g":"TD2","t":"o","x":2.96,"y":109.3}
],
"lab":[
{"p":"a","g":"TD2","t":"f","s":"C08","x":0.912,"y":381},{"p":"a","g":"TD2","t":"f","s":"C81","x":1.088,"y":381},{"p":"a","g":"TD1","t":"f","s":"A85","x":0.838,"y":296},{"p":"a","g":"TD1","t":"f","s":"A33","x":0.583,"y":199},{"p":"a","g":"TD1","t":"f","s":"A48","x":1.254,"y":402},{"p":"a","g":"TD1","t":"f","s":"A22","x":1.413,"y":393},{"p":"a","g":"TD2","t":"f","s":"C53","x":1.353,"y":209},{"p":"a","g":"TD1","t":"f","s":"A78","x":0.888,"y":235},{"p":"a","g":"TD1","t":"f","s":"A35","x":1.429,"y":158},{"p":"a","g":"TD2","t":"f","s":"C82","x":0.794,"y":91},{"p":"a","g":"TD2","t":"f","s":"C79","x":1.421,"y":28},{"p":"a","g":"TD2","t":"f","s":"C27","x":1.421,"y":-20},{"p":"a","g":"TD2","t":"f","s":"C19","x":1.519,"y":-75},
{"p":"b","g":"TD1","t":"f","s":"A22","x":0.0837,"y":76.9},{"p":"b","g":"TD2","t":"f","s":"C08","x":0.1476,"y":71.1},{"p":"b","g":"TD1","t":"f","s":"A35","x":0.198,"y":80.7},{"p":"b","g":"TD2","t":"f","s":"C81","x":0.2479,"y":52.5},{"p":"b","g":"TD2","t":"f","s":"C19","x":0.0702,"y":48},{"p":"b","g":"TD1","t":"f","s":"A78","x":0.1837,"y":30.9},{"p":"b","g":"TD2","t":"f","s":"C27","x":0.0792,"y":18.6},{"p":"b","g":"TD1","t":"f","s":"A33","x":0.1675,"y":8.5},{"p":"b","g":"TD2","t":"f","s":"C79","x":0.1114,"y":-0.3},{"p":"b","g":"TD1","t":"f","s":"A48","x":0.1386,"y":-2.3},{"p":"b","g":"TD2","t":"f","s":"C82","x":0.1922,"y":-9.8},
{"p":"c","g":"TD1","t":"f","s":"A22","x":3.68,"y":15.7},{"p":"c","g":"TD1","t":"f","s":"A33","x":5.35,"y":0.1},{"p":"c","g":"TD1","t":"f","s":"A35","x":4.15,"y":-5},{"p":"c","g":"TD2","t":"f","s":"C08","x":3.79,"y":-1.1},{"p":"c","g":"TD2","t":"f","s":"C81","x":5.92,"y":-9.8},{"p":"c","g":"TD2","t":"f","s":"C82","x":6.06,"y":-15.4},{"p":"c","g":"TD2","t":"f","s":"C19","x":2.48,"y":9},{"p":"c","g":"TD2","t":"f","s":"C27","x":1.85,"y":6.9},{"p":"c","g":"TD2","t":"f","s":"C79","x":1.1,"y":5.2},{"p":"c","g":"TD2","t":"f","s":"C47","x":0.44,"y":2.3},{"p":"c","g":"TD2","t":"f","s":"C39","x":3.22,"y":4},{"p":"c","g":"TD1","t":"f","s":"A48","x":4.8,"y":-22},{"p":"c","g":"TD1","t":"f","s":"A73","x":5.49,"y":-22.5},{"p":"c","g":"TD1","t":"f","s":"A78","x":6.17,"y":-22.5},
{"p":"d","g":"TD1","t":"f","s":"A33","x":2.62,"y":3.14},{"p":"d","g":"TD2","t":"f","s":"C82","x":3.05,"y":2.4},{"p":"d","g":"TD1","t":"f","s":"A22","x":2.09,"y":2.33},{"p":"d","g":"TD1","t":"f","s":"A78","x":2.01,"y":1.53},{"p":"d","g":"TD2","t":"f","s":"C81","x":4.22,"y":1.41},{"p":"d","g":"TD2","t":"f","s":"C79","x":2.56,"y":0.85},{"p":"d","g":"TD2","t":"f","s":"C08","x":3.53,"y":0.57},{"p":"d","g":"TD1","t":"f","s":"A48, A73","x":4.33,"y":0.15},{"p":"d","g":"TD2","t":"f","s":"C27","x":2.08,"y":-0.31},{"p":"d","g":"TD2","t":"f","s":"C47","x":2.37,"y":-0.64},{"p":"d","g":"TD2","t":"f","s":"C39","x":3.62,"y":-0.19},{"p":"d","g":"TD2","t":"f","s":"C47","x":3.04,"y":-0.72},
{"p":"e","g":"TD1","t":"f","s":"A73","x":-20.2,"y":86.6},{"p":"e","g":"TD2","t":"f","s":"C81","x":-18.7,"y":68.3},{"p":"e","g":"TD1","t":"f","s":"A78","x":-25.4,"y":59.4},{"p":"e","g":"TD2","t":"f","s":"C08","x":-19,"y":56.9},{"p":"e","g":"TD1","t":"f","s":"A22","x":-24.3,"y":44.8},{"p":"e","g":"TD1","t":"f","s":"A48","x":-21.7,"y":38},{"p":"e","g":"TD2","t":"f","s":"C19","x":-22.8,"y":30.5},{"p":"e","g":"TD2","t":"f","s":"C27","x":-22.5,"y":22.2},{"p":"e","g":"TD1","t":"f","s":"A33","x":-23.1,"y":11.6},{"p":"e","g":"TD2","t":"f","s":"C82","x":-20.8,"y":-7.3},{"p":"e","g":"TD2","t":"f","s":"C81","x":-8,"y":77.1},{"p":"e","g":"TD1","t":"f","s":"A78","x":-6.2,"y":65.7},{"p":"e","g":"TD1","t":"f","s":"A35","x":-2,"y":64},{"p":"e","g":"TD2","t":"f","s":"C08","x":0.06,"y":45.6},{"p":"e","g":"TD1","t":"f","s":"A48","x":-2.65,"y":35.3},{"p":"e","g":"TD2","t":"f","s":"C19","x":-0.66,"y":26.7},{"p":"e","g":"TD1","t":"f","s":"A33","x":0.3,"y":17.6},{"p":"e","g":"TD2","t":"f","s":"C79","x":-5.3,"y":-9.8},{"p":"e","g":"TD2","t":"f","s":"C27","x":-0.8,"y":-9.8},{"p":"e","g":"TD1","t":"f","s":"A22","x":14.1,"y":48.6},
{"p":"f","g":"TD2","t":"o","s":"C81","x":3.45,"y":397.6},{"p":"f","g":"TD2","t":"o","s":"C08","x":2.78,"y":366.4},{"p":"f","g":"TD2","t":"f","s":"C08","x":4.2,"y":282.3},{"p":"f","g":"TD2","t":"f","s":"C81","x":4.87,"y":385.6},{"p":"f","g":"TD1","t":"f","s":"A48","x":2.88,"y":249.8},{"p":"f","g":"TD1","t":"o","s":"A33","x":3.8,"y":247.4},{"p":"f","g":"TD1","t":"f","s":"A22","x":4.46,"y":205.4},{"p":"f","g":"TD1","t":"o","s":"A78","x":1.21,"y":207.8},{"p":"f","g":"TD1","t":"o","s":"A22","x":1.21,"y":153.8},{"p":"f","g":"TD2","t":"f","s":"C79","x":2.16,"y":210.2},{"p":"f","g":"TD1","t":"f","s":"A78","x":4.14,"y":135.7},{"p":"f","g":"TD2","t":"o","s":"C27","x":1.93,"y":141.7},{"p":"f","g":"TD1","t":"f","s":"A35","x":4.01,"y":87.7},{"p":"f","g":"TD2","t":"f","s":"C27","x":4.13,"y":51.7},{"p":"f","g":"TD2","t":"o","s":"C82","x":3.88,"y":15.6},{"p":"f","g":"TD2","t":"f","s":"C19","x":3.24,"y":3.6},{"p":"f","g":"TD2","t":"f","s":"C82","x":5.71,"y":150},{"p":"f","g":"TD1","t":"f","s":"A33","x":7.8,"y":247}
],
"rlab":[
{"p":"a","s":"(a)","x":0.116,"y":737},{"p":"a","s":"Tagish Lake","x":0.902,"y":471},{"p":"a","s":"Tagish Lake*","x":0.453,"y":380},{"p":"a","s":"CR1","x":1.429,"y":262},{"p":"a","s":"CI*","x":0.888,"y":161},{"p":"a","s":"CI","x":1.559,"y":18},{"p":"a","s":"CM*","x":0.687,"y":-42},{"p":"a","s":"CM","x":1.144,"y":-42},{"p":"a","s":"CV","x":0.136,"y":-26},
{"p":"b","s":"(b)","x":0.018,"y":186.9},{"p":"b","s":"CR","x":0.0816,"y":171.9},{"p":"b","s":"Tagish Lake","x":0.254,"y":84.4},{"p":"b","s":"CI","x":0.195,"y":41.2},{"p":"b","s":"CM","x":0.0756,"y":5.3},{"p":"b","s":"CV","x":0.0642,"y":-17.3},
{"p":"c","s":"(c)","x":0.41,"y":26.8},{"p":"c","s":"CM","x":2.04,"y":-10.3},{"p":"c","s":"CI","x":4.13,"y":-11.7},{"p":"c","s":"CV","x":0.74,"y":-18.7},
{"p":"d","s":"(d)","x":0.3,"y":3.74},
{"p":"e","s":"(e)","x":-36.3,"y":185},{"p":"e","s":"CM","x":-10,"y":2.8},{"p":"e","s":"CI","x":-13,"y":39.8},{"p":"e","s":"CV","x":-17.2,"y":-18.1},{"p":"e","s":"Tagish Lake","x":12.5,"y":84.6},
{"p":"f","s":"(f)","x":0.52,"y":722},{"p":"f","s":"CI","x":2.69,"y":37.2},{"p":"f","s":"CV","x":5.03,"y":-62.5},{"p":"f","s":"Tagish Lake","x":6.5,"y":487.7}
],
"rot":[
{"p":"a","s":"CR2","x":0.447,"y":643},
{"p":"c","s":"CR","x":1.13,"y":-3.5},{"p":"c","s":"Tagish Lake","x":5.05,"y":19.7},
{"p":"d","s":"[C]carb / [C]TC = 60%","x":1.85,"y":3.02},{"p":"d","s":"[C]TC = 6 wt%","x":2.9,"y":3.3},{"p":"d","s":"50%","x":3.64,"y":3.8},{"p":"d","s":"40%","x":4.73,"y":3.33},{"p":"d","s":"30%","x":4.72,"y":2.13},{"p":"d","s":"20%","x":4.7,"y":1.29},{"p":"d","s":"10%","x":4.75,"y":0.61},{"p":"d","s":"2","x":0.92,"y":1.2},{"p":"d","s":"3","x":1.34,"y":1.83},{"p":"d","s":"4","x":1.75,"y":2.41},{"p":"d","s":"5","x":2.13,"y":3.0},
{"p":"e","s":"CR","x":-4.6,"y":151.4},{"p":"e","s":"¹⁵N-hotspot","x":-10,"y":142.6},{"p":"e","s":"¹⁵N-coldspot","x":8.1,"y":-32},
{"p":"f","s":"CR","x":1.7,"y":514},{"p":"f","s":"CM","x":1.18,"y":-74.5}
],
"dline":[
{"p":"d","k":"ray","x":0,"y":0,"x2":2.667,"y2":4},{"p":"d","k":"ray","x":0,"y":0,"x2":4,"y2":4},{"p":"d","k":"ray","x":0,"y":0,"x2":5,"y2":3.333},{"p":"d","k":"ray","x":0,"y":0,"x2":5,"y2":2.143},{"p":"d","k":"ray","x":0,"y":0,"x2":5,"y2":1.25},{"p":"d","k":"ray","x":0,"y":0,"x2":5,"y2":0.556},
{"p":"d","k":"zero","x":0,"y":0,"x2":5,"y2":0},
{"p":"d","k":"dash","x":0.95,"y":1.05,"x2":2,"y2":0},{"p":"d","k":"dash","x":1.38,"y":1.62,"x2":3,"y2":0},{"p":"d","k":"dash","x":1.8,"y":2.2,"x2":4,"y2":0},{"p":"d","k":"dash","x":2.2,"y":2.8,"x2":5,"y2":0},{"p":"d","k":"dash","x":2.45,"y":3.55,"x2":5,"y2":1},
{"p":"f","k":"dash","x":0,"y":94,"x2":3.55,"y2":800},{"p":"f","k":"dash","x":0.04,"y":-400,"x2":5.81,"y2":800}
],
"arrow":[{"k":"hot","x":-22.2,"y":-27.5,"x2":-6.56,"y2":181.9},{"k":"cold","x":-2.4,"y":-20,"x2":13.9,"y2":-37.3}],
"ahead":[{"k":"hot","x":-5.55,"y":191.7},{"k":"cold","x":16.2,"y":-41.1}]
},
"columns":2,
"spacing":{"row":42,"column":62},
"bounds":"flush",
"resolve":{"scale":{"color":"independent","fill":"independent","stroke":"independent"},"legend":{"color":"independent","fill":"independent","stroke":"independent"}},
"concat":[
{
 "width":332,"height":331,
 "encoding":{
  "x":{"field":"x","type":"quantitative","scale":{"domain":[0,2],"nice":false,"zero":false},"axis":{"title":"[H] (wt%)","values":[0,0.1,0.2,0.3,0.4,0.5,0.6,0.7,0.8,0.9,1,1.1,1.2,1.3,1.4,1.5,1.6,1.7,1.8,1.9,2],"labelExpr":"datum.value % 0.5 == 0 ? format(datum.value, '.1f') : ''","tickDash":{"condition":{"test":"datum.value % 0.5 != 0","value":[4,100]},"value":[]}}},
  "y":{"field":"y","type":"quantitative","scale":{"domain":[-400,800],"nice":false,"zero":false},"axis":{"title":"δD (‰)","values":[-400,-350,-300,-250,-200,-150,-100,-50,0,50,100,150,200,250,300,350,400,450,500,550,600,650,700,750,800],"labelExpr":"datum.value % 200 == 0 ? '' + datum.value : ''","tickDash":{"condition":{"test":"datum.value % 200 != 0","value":[4,100]},"value":[]}}}
 },
 "layer":[
  {"data":{"name":"poly"},"transform":[{"filter":"datum.p=='a'"}],"mark":{"type":"line","color":"black","strokeWidth":1.3},"encoding":{"detail":{"field":"r","type":"nominal"},"order":{"value":null}}},
  {"data":{"name":"mk"},"transform":[{"filter":"datum.p=='a'"}],"mark":{"type":"point","shape":"circle","filled":false,"color":"black","strokeWidth":1.4,"size":55,"opacity":1}},
  {"data":{"name":"seg"},"transform":[{"filter":"datum.p=='a'"}],"mark":{"type":"rule","strokeWidth":0.8},"encoding":{"x2":{"field":"x2"},"y2":{"field":"y2"},"color":{"field":"g","type":"nominal","scale":{"domain":["Orgueil (CI1)","TD1","TD2"],"range":["#111111","#e3242b","#2c55b2"]},"legend":null}}},
  {"data":{"name":"errh"},"transform":[{"filter":"datum.p=='a'"}],"mark":{"type":"rule","strokeWidth":1.5},"encoding":{"x2":{"field":"x2"},"color":{"field":"g","type":"nominal","scale":{"domain":["Orgueil (CI1)","TD1","TD2"],"range":["#111111","#e3242b","#2c55b2"]},"legend":null}}},
  {"data":{"name":"pts"},"transform":[{"filter":"datum.p=='a' && datum.t=='f'"}],"mark":{"type":"point","shape":"circle","filled":true,"size":90,"stroke":"black","strokeWidth":1,"opacity":1},"encoding":{"fill":{"field":"g","type":"nominal","scale":{"domain":["TD1","TD2","Orgueil (CI1)"],"range":["#e2232a","#2a4a9f","#f4e91c"]},"legend":{"title":"Bulk data","orient":"none","legendX":193,"legendY":6,"strokeColor":"black","fillColor":"white","padding":6,"symbolType":"circle","symbolSize":90,"symbolStrokeColor":"black","symbolStrokeWidth":1,"symbolOffset":8,"labelOffset":14,"rowPadding":3,"titlePadding":4}}}},
  {"data":{"name":"lab"},"transform":[{"filter":"datum.p=='a'"}],"mark":{"type":"text","fontSize":11.5},"encoding":{"text":{"field":"s","type":"nominal"},"color":{"field":"g","type":"nominal","scale":{"domain":["Orgueil (CI1)","TD1","TD2"],"range":["#111111","#e3242b","#2c55b2"]},"legend":null}}},
  {"data":{"name":"rlab"},"transform":[{"filter":"datum.p=='a'"}],"mark":{"type":"text","fontSize":14,"color":"black"},"encoding":{"text":{"field":"s","type":"nominal"}}},
  {"data":{"name":"rot"},"transform":[{"filter":"datum.p=='a' && datum.s=='CR2'"}],"mark":{"type":"text","fontSize":14,"color":"black","angle":62},"encoding":{"text":{"field":"s","type":"nominal"}}}
 ]
},
{
 "width":332,"height":331,
 "encoding":{
  "x":{"field":"x","type":"quantitative","scale":{"domain":[0,0.3],"nice":false,"zero":false},"axis":{"title":"[N] (wt%)","values":[0,0.02,0.04,0.06,0.08,0.1,0.12,0.14,0.16,0.18,0.2,0.22,0.24,0.26,0.28,0.3],"labelExpr":"indexof([0,0.1,0.2,0.3], datum.value) >= 0 ? format(datum.value, '.1f') : ''","tickDash":{"condition":{"test":"indexof([0,0.1,0.2,0.3], datum.value) < 0","value":[4,100]},"value":[]}}},
  "y":{"field":"y","type":"quantitative","scale":{"domain":[-50,200],"nice":false,"zero":false},"axis":{"title":"δ¹⁵N (‰)","values":[-50,-40,-30,-20,-10,0,10,20,30,40,50,60,70,80,90,100,110,120,130,140,150,160,170,180,190,200],"labelExpr":"datum.value % 50 == 0 ? '' + datum.value : ''","tickDash":{"condition":{"test":"datum.value % 50 != 0","value":[4,100]},"value":[]}}}
 },
 "layer":[
  {"data":{"name":"poly"},"transform":[{"filter":"datum.p=='b'"}],"mark":{"type":"line","color":"black","strokeWidth":1.3},"encoding":{"detail":{"field":"r","type":"nominal"},"order":{"value":null}}},
  {"data":{"name":"seg"},"transform":[{"filter":"datum.p=='b'"}],"mark":{"type":"rule","strokeWidth":0.8},"encoding":{"x2":{"field":"x2"},"y2":{"field":"y2"},"color":{"field":"g","type":"nominal","scale":{"domain":["Orgueil (CI1)","TD1","TD2"],"range":["#111111","#e3242b","#2c55b2"]},"legend":null}}},
  {"data":{"name":"errh"},"transform":[{"filter":"datum.p=='b'"}],"mark":{"type":"rule","strokeWidth":1.5},"encoding":{"x2":{"field":"x2"},"color":{"field":"g","type":"nominal","scale":{"domain":["Orgueil (CI1)","TD1","TD2"],"range":["#111111","#e3242b","#2c55b2"]},"legend":null}}},
  {"data":{"name":"pts"},"transform":[{"filter":"datum.p=='b' && datum.t=='f'"}],"mark":{"type":"point","shape":"circle","filled":true,"size":90,"stroke":"black","strokeWidth":1,"opacity":1},"encoding":{"fill":{"field":"g","type":"nominal","scale":{"domain":["TD1","TD2","Orgueil (CI1)"],"range":["#e2232a","#2a4a9f","#f4e91c"]},"legend":null}}},
  {"data":{"name":"lab"},"transform":[{"filter":"datum.p=='b'"}],"mark":{"type":"text","fontSize":11.5},"encoding":{"text":{"field":"s","type":"nominal"},"color":{"field":"g","type":"nominal","scale":{"domain":["Orgueil (CI1)","TD1","TD2"],"range":["#111111","#e3242b","#2c55b2"]},"legend":null}}},
  {"data":{"name":"rlab"},"transform":[{"filter":"datum.p=='b'"}],"mark":{"type":"text","fontSize":14,"color":"black"},"encoding":{"text":{"field":"s","type":"nominal"}}}
 ]
},
{
 "width":332,"height":331,
 "encoding":{
  "x":{"field":"x","type":"quantitative","scale":{"domain":[0,7],"nice":false,"zero":false},"axis":{"title":"[C]TC or TOC (wt%)","values":[0,0.2,0.4,0.6,0.8,1,1.2,1.4,1.6,1.8,2,2.2,2.4,2.6,2.8,3,3.2,3.4,3.6,3.8,4,4.2,4.4,4.6,4.8,5,5.2,5.4,5.6,5.8,6,6.2,6.4,6.6,6.8,7],"labelExpr":"datum.value % 1 == 0 ? '' + datum.value : ''","tickDash":{"condition":{"test":"datum.value % 1 != 0","value":[4,100]},"value":[]}}},
  "y":{"field":"y","type":"quantitative","scale":{"domain":[-30,30],"nice":false,"zero":false},"axis":{"title":"δ¹³C TC or TOC (‰)","values":[-30,-28,-26,-24,-22,-20,-18,-16,-14,-12,-10,-8,-6,-4,-2,0,2,4,6,8,10,12,14,16,18,20,22,24,26,28,30],"labelExpr":"datum.value % 10 == 0 ? '' + datum.value : ''","tickDash":{"condition":{"test":"datum.value % 10 != 0","value":[4,100]},"value":[]}}}
 },
 "layer":[
  {"data":{"name":"poly"},"transform":[{"filter":"datum.p=='c'"}],"mark":{"type":"line","color":"black","strokeWidth":1.3},"encoding":{"detail":{"field":"r","type":"nominal"},"order":{"value":null}}},
  {"data":{"name":"seg"},"transform":[{"filter":"datum.p=='c'"}],"mark":{"type":"rule","strokeWidth":0.8},"encoding":{"x2":{"field":"x2"},"y2":{"field":"y2"},"color":{"field":"g","type":"nominal","scale":{"domain":["Orgueil (CI1)","TD1","TD2"],"range":["#111111","#e3242b","#2c55b2"]},"legend":null}}},
  {"data":{"name":"errh"},"transform":[{"filter":"datum.p=='c'"}],"mark":{"type":"rule","strokeWidth":1.5},"encoding":{"x2":{"field":"x2"},"color":{"field":"g","type":"nominal","scale":{"domain":["Orgueil (CI1)","TD1","TD2"],"range":["#111111","#e3242b","#2c55b2"]},"legend":null}}},
  {"data":{"name":"pts"},"transform":[{"filter":"datum.p=='c' && datum.t=='f'"}],"mark":{"type":"point","shape":"circle","filled":true,"size":90,"stroke":"black","strokeWidth":1,"opacity":1},"encoding":{"fill":{"field":"g","type":"nominal","scale":{"domain":["TD1","TD2","Orgueil (CI1)"],"range":["#e2232a","#2a4a9f","#f4e91c"]},"legend":null}}},
  {"data":{"name":"pts"},"transform":[{"filter":"datum.p=='c' && datum.t=='o'"}],"mark":{"type":"point","shape":"circle","filled":true,"fill":"white","size":80,"strokeWidth":1.5,"opacity":1},"encoding":{"stroke":{"field":"g","type":"nominal","scale":{"domain":["TD1","TD2"],"range":["#e3242b","#2c55b2"]},"legend":{"title":["Total organic C","(TOC)"],"orient":"none","legendX":15,"legendY":30,"strokeColor":"black","fillColor":"white","padding":8,"symbolType":"circle","symbolSize":90,"symbolFillColor":"white","symbolStrokeWidth":1.5,"symbolOffset":2,"labelOffset":14,"rowPadding":4,"titlePadding":5}}}},
  {"data":{"name":"lab"},"transform":[{"filter":"datum.p=='c'"}],"mark":{"type":"text","fontSize":11.5},"encoding":{"text":{"field":"s","type":"nominal"},"color":{"field":"g","type":"nominal","scale":{"domain":["Orgueil (CI1)","TD1","TD2"],"range":["#111111","#e3242b","#2c55b2"]},"legend":null}}},
  {"data":{"name":"rlab"},"transform":[{"filter":"datum.p=='c'"}],"mark":{"type":"text","fontSize":14,"color":"black"},"encoding":{"text":{"field":"s","type":"nominal"}}},
  {"data":{"name":"rot"},"transform":[{"filter":"datum.p=='c' && datum.s=='CR'"}],"mark":{"type":"text","fontSize":14,"color":"black","angle":-90},"encoding":{"text":{"field":"s","type":"nominal"}}},
  {"data":{"name":"rot"},"transform":[{"filter":"datum.p=='c' && datum.s=='Tagish Lake'"}],"mark":{"type":"text","fontSize":14,"color":"black","angle":-43},"encoding":{"text":{"field":"s","type":"nominal"}}}
 ]
},
{
 "width":332,"height":331,
 "encoding":{
  "x":{"field":"x","type":"quantitative","scale":{"domain":[0,5],"nice":false,"zero":false},"axis":{"title":"[C]TC (wt%)","values":[0,0.2,0.4,0.6,0.8,1,1.2,1.4,1.6,1.8,2,2.2,2.4,2.6,2.8,3,3.2,3.4,3.6,3.8,4,4.2,4.4,4.6,4.8,5],"labelExpr":"datum.value % 1 == 0 ? '' + datum.value : ''","tickDash":{"condition":{"test":"datum.value % 1 != 0","value":[4,100]},"value":[]}}},
  "y":{"field":"y","type":"quantitative","scale":{"domain":[-1,4],"nice":false,"zero":false},"axis":{"title":"[C]carb (wt%)","values":[-1,-0.8,-0.6,-0.4,-0.2,0,0.2,0.4,0.6,0.8,1,1.2,1.4,1.6,1.8,2,2.2,2.4,2.6,2.8,3,3.2,3.4,3.6,3.8,4],"labelExpr":"datum.value % 1 == 0 ? '' + datum.value : ''","tickDash":{"condition":{"test":"datum.value % 1 != 0","value":[4,100]},"value":[]}}}
 },
 "layer":[
  {"data":{"name":"dline"},"transform":[{"filter":"datum.p=='d' && datum.k=='ray'"}],"mark":{"type":"rule","color":"black","strokeWidth":1},"encoding":{"x2":{"field":"x2"},"y2":{"field":"y2"}}},
  {"data":{"name":"dline"},"transform":[{"filter":"datum.p=='d' && datum.k=='zero'"}],"mark":{"type":"rule","color":"black","strokeWidth":1.6},"encoding":{"x2":{"field":"x2"},"y2":{"field":"y2"}}},
  {"data":{"name":"dline"},"transform":[{"filter":"datum.p=='d' && datum.k=='dash'"}],"mark":{"type":"rule","color":"black","strokeWidth":1,"strokeDash":[3,2]},"encoding":{"x2":{"field":"x2"},"y2":{"field":"y2"}}},
  {"data":{"name":"seg"},"transform":[{"filter":"datum.p=='d'"}],"mark":{"type":"rule","strokeWidth":0.8},"encoding":{"x2":{"field":"x2"},"y2":{"field":"y2"},"color":{"field":"g","type":"nominal","scale":{"domain":["Orgueil (CI1)","TD1","TD2"],"range":["#111111","#e3242b","#2c55b2"]},"legend":null}}},
  {"data":{"name":"errh"},"transform":[{"filter":"datum.p=='d'"}],"mark":{"type":"rule","strokeWidth":1.5},"encoding":{"x2":{"field":"x2"},"color":{"field":"g","type":"nominal","scale":{"domain":["Orgueil (CI1)","TD1","TD2"],"range":["#111111","#e3242b","#2c55b2"]},"legend":null}}},
  {"data":{"name":"errv"},"transform":[{"filter":"datum.p=='d'"}],"mark":{"type":"rule","strokeWidth":1.5},"encoding":{"y2":{"field":"y2"},"color":{"field":"g","type":"nominal","scale":{"domain":["Orgueil (CI1)","TD1","TD2"],"range":["#111111","#e3242b","#2c55b2"]},"legend":null}}},
  {"data":{"name":"pts"},"transform":[{"filter":"datum.p=='d' && datum.t=='f'"}],"mark":{"type":"point","shape":"circle","filled":true,"size":90,"stroke":"black","strokeWidth":1,"opacity":1},"encoding":{"fill":{"field":"g","type":"nominal","scale":{"domain":["TD1","TD2","Orgueil (CI1)"],"range":["#e2232a","#2a4a9f","#f4e91c"]},"legend":null}}},
  {"data":{"name":"lab"},"transform":[{"filter":"datum.p=='d'"}],"mark":{"type":"text","fontSize":11.5},"encoding":{"text":{"field":"s","type":"nominal"},"color":{"field":"g","type":"nominal","scale":{"domain":["Orgueil (CI1)","TD1","TD2"],"range":["#111111","#e3242b","#2c55b2"]},"legend":null}}},
  {"data":{"name":"rlab"},"transform":[{"filter":"datum.p=='d'"}],"mark":{"type":"text","fontSize":14,"color":"black"},"encoding":{"text":{"field":"s","type":"nominal"}}},
  {"data":{"name":"rot"},"transform":[{"filter":"datum.p=='d' && datum.s=='[C]carb / [C]TC = 60%'"}],"mark":{"type":"text","fontSize":11.5,"color":"black","angle":-56},"encoding":{"text":{"field":"s","type":"nominal"}}},
  {"data":{"name":"rot"},"transform":[{"filter":"datum.p=='d' && datum.s=='[C]TC = 6 wt%'"}],"mark":{"type":"text","fontSize":11.5,"color":"black","angle":45},"encoding":{"text":{"field":"s","type":"nominal"}}},
  {"data":{"name":"rot"},"transform":[{"filter":"datum.p=='d' && datum.s=='50%'"}],"mark":{"type":"text","fontSize":11.5,"color":"black","angle":-45},"encoding":{"text":{"field":"s","type":"nominal"}}},
  {"data":{"name":"rot"},"transform":[{"filter":"datum.p=='d' && datum.s=='40%'"}],"mark":{"type":"text","fontSize":11.5,"color":"black","angle":-33},"encoding":{"text":{"field":"s","type":"nominal"}}},
  {"data":{"name":"rot"},"transform":[{"filter":"datum.p=='d' && datum.s=='30%'"}],"mark":{"type":"text","fontSize":11.5,"color":"black","angle":-23},"encoding":{"text":{"field":"s","type":"nominal"}}},
  {"data":{"name":"rot"},"transform":[{"filter":"datum.p=='d' && datum.s=='20%'"}],"mark":{"type":"text","fontSize":11.5,"color":"black","angle":-14},"encoding":{"text":{"field":"s","type":"nominal"}}},
  {"data":{"name":"rot"},"transform":[{"filter":"datum.p=='d' && datum.s=='10%'"}],"mark":{"type":"text","fontSize":11.5,"color":"black","angle":-6},"encoding":{"text":{"field":"s","type":"nominal"}}},
  {"data":{"name":"rot"},"transform":[{"filter":"datum.p=='d' && indexof(['2','3','4','5'], datum.s) >= 0"}],"mark":{"type":"text","fontSize":11.5,"color":"black","angle":60},"encoding":{"text":{"field":"s","type":"nominal"}}}
 ]
},
{
 "width":332,"height":331,
 "encoding":{
  "x":{"field":"x","type":"quantitative","scale":{"domain":[-40,20],"nice":false,"zero":false},"axis":{"title":"δ¹³C TC or TOC (‰)","values":[-40,-38,-36,-34,-32,-30,-28,-26,-24,-22,-20,-18,-16,-14,-12,-10,-8,-6,-4,-2,0,2,4,6,8,10,12,14,16,18,20],"labelExpr":"datum.value % 10 == 0 ? '' + datum.value : ''","tickDash":{"condition":{"test":"datum.value % 10 != 0","value":[4,100]},"value":[]}}},
  "y":{"field":"y","type":"quantitative","scale":{"domain":[-50,200],"nice":false,"zero":false},"axis":{"title":"δ¹⁵N (‰)","values":[-50,-40,-30,-20,-10,0,10,20,30,40,50,60,70,80,90,100,110,120,130,140,150,160,170,180,190,200],"labelExpr":"datum.value % 50 == 0 ? '' + datum.value : ''","tickDash":{"condition":{"test":"datum.value % 50 != 0","value":[4,100]},"value":[]}}}
 },
 "layer":[
  {"data":{"name":"poly"},"transform":[{"filter":"datum.p=='e'"}],"mark":{"type":"line","color":"black","strokeWidth":1.3},"encoding":{"detail":{"field":"r","type":"nominal"},"order":{"value":null}}},
  {"data":{"name":"arrow"},"transform":[{"filter":"datum.k=='hot'"}],"mark":{"type":"rule","color":"#b3b3b3","strokeWidth":10},"encoding":{"x2":{"field":"x2"},"y2":{"field":"y2"}}},
  {"data":{"name":"ahead"},"transform":[{"filter":"datum.k=='hot'"}],"mark":{"type":"point","shape":"triangle-up","filled":true,"color":"#b3b3b3","size":400,"angle":17,"opacity":1}},
  {"data":{"name":"arrow"},"transform":[{"filter":"datum.k=='cold'"}],"mark":{"type":"rule","color":"#8c8c8c","strokeWidth":13},"encoding":{"x2":{"field":"x2"},"y2":{"field":"y2"}}},
  {"data":{"name":"ahead"},"transform":[{"filter":"datum.k=='cold'"}],"mark":{"type":"point","shape":"triangle-right","filled":true,"color":"#8c8c8c","size":700,"angle":17,"opacity":1}},
  {"data":{"name":"seg"},"transform":[{"filter":"datum.p=='e'"}],"mark":{"type":"rule","strokeWidth":0.8},"encoding":{"x2":{"field":"x2"},"y2":{"field":"y2"},"color":{"field":"g","type":"nominal","scale":{"domain":["Orgueil (CI1)","TD1","TD2"],"range":["#111111","#e3242b","#2c55b2"]},"legend":null}}},
  {"data":{"name":"pts"},"transform":[{"filter":"datum.p=='e' && datum.t=='f'"}],"mark":{"type":"point","shape":"circle","filled":true,"size":90,"stroke":"black","strokeWidth":1,"opacity":1},"encoding":{"fill":{"field":"g","type":"nominal","scale":{"domain":["TD1","TD2","Orgueil (CI1)"],"range":["#e2232a","#2a4a9f","#f4e91c"]},"legend":null}}},
  {"data":{"name":"pts"},"transform":[{"filter":"datum.p=='e' && datum.t=='o'"}],"mark":{"type":"point","shape":"circle","filled":true,"fill":"white","size":80,"strokeWidth":1.5,"opacity":1},"encoding":{"stroke":{"field":"g","type":"nominal","scale":{"domain":["TD1","TD2"],"range":["#e3242b","#2c55b2"]},"legend":null}}},
  {"data":{"name":"lab"},"transform":[{"filter":"datum.p=='e'"}],"mark":{"type":"text","fontSize":11.5},"encoding":{"text":{"field":"s","type":"nominal"},"color":{"field":"g","type":"nominal","scale":{"domain":["Orgueil (CI1)","TD1","TD2"],"range":["#111111","#e3242b","#2c55b2"]},"legend":null}}},
  {"data":{"name":"rlab"},"transform":[{"filter":"datum.p=='e'"}],"mark":{"type":"text","fontSize":14,"color":"black"},"encoding":{"text":{"field":"s","type":"nominal"}}},
  {"data":{"name":"rot"},"transform":[{"filter":"datum.p=='e' && datum.s=='CR'"}],"mark":{"type":"text","fontSize":14,"color":"black","angle":-70},"encoding":{"text":{"field":"s","type":"nominal"}}},
  {"data":{"name":"rot"},"transform":[{"filter":"datum.p=='e' && datum.s=='¹⁵N-hotspot'"}],"mark":{"type":"text","fontSize":13,"fontWeight":"bold","color":"#222222","angle":-72.6},"encoding":{"text":{"field":"s","type":"nominal"}}},
  {"data":{"name":"rot"},"transform":[{"filter":"datum.p=='e' && datum.s=='¹⁵N-coldspot'"}],"mark":{"type":"text","fontSize":13,"fontWeight":"bold","color":"#222222","angle":17},"encoding":{"text":{"field":"s","type":"nominal"}}}
 ]
},
{
 "width":332,"height":331,
 "encoding":{
  "x":{"field":"x","type":"quantitative","scale":{"domain":[0,9],"nice":false,"zero":false},"axis":{"title":"[C]TC or TOC/[H]","values":[0,0.2,0.4,0.6,0.8,1,1.2,1.4,1.6,1.8,2,2.2,2.4,2.6,2.8,3,3.2,3.4,3.6,3.8,4,4.2,4.4,4.6,4.8,5,5.2,5.4,5.6,5.8,6,6.2,6.4,6.6,6.8,7,7.2,7.4,7.6,7.8,8,8.2,8.4,8.6,8.8,9],"labelExpr":"datum.value % 1 == 0 ? '' + datum.value : ''","tickDash":{"condition":{"test":"datum.value % 1 != 0","value":[4,100]},"value":[]}}},
  "y":{"field":"y","type":"quantitative","scale":{"domain":[-400,800],"nice":false,"zero":false},"axis":{"title":"δD (‰)","values":[-400,-350,-300,-250,-200,-150,-100,-50,0,50,100,150,200,250,300,350,400,450,500,550,600,650,700,750,800],"labelExpr":"datum.value % 200 == 0 ? '' + datum.value : ''","tickDash":{"condition":{"test":"datum.value % 200 != 0","value":[4,100]},"value":[]}}}
 },
 "layer":[
  {"data":{"name":"dline"},"transform":[{"filter":"datum.p=='f'"}],"mark":{"type":"rule","color":"black","strokeWidth":1,"strokeDash":[3,2]},"encoding":{"x2":{"field":"x2"},"y2":{"field":"y2"}}},
  {"data":{"name":"poly"},"transform":[{"filter":"datum.p=='f'"}],"mark":{"type":"line","color":"black","strokeWidth":1.3},"encoding":{"detail":{"field":"r","type":"nominal"},"order":{"value":null}}},
  {"data":{"name":"seg"},"transform":[{"filter":"datum.p=='f'"}],"mark":{"type":"rule","strokeWidth":0.8},"encoding":{"x2":{"field":"x2"},"y2":{"field":"y2"},"color":{"field":"g","type":"nominal","scale":{"domain":["Orgueil (CI1)","TD1","TD2"],"range":["#111111","#e3242b","#2c55b2"]},"legend":null}}},
  {"data":{"name":"errh"},"transform":[{"filter":"datum.p=='f'"}],"mark":{"type":"rule","strokeWidth":1.5},"encoding":{"x2":{"field":"x2"},"color":{"field":"g","type":"nominal","scale":{"domain":["Orgueil (CI1)","TD1","TD2"],"range":["#111111","#e3242b","#2c55b2"]},"legend":null}}},
  {"data":{"name":"pts"},"transform":[{"filter":"datum.p=='f' && datum.t=='f'"}],"mark":{"type":"point","shape":"circle","filled":true,"size":90,"stroke":"black","strokeWidth":1,"opacity":1},"encoding":{"fill":{"field":"g","type":"nominal","scale":{"domain":["TD1","TD2","Orgueil (CI1)"],"range":["#e2232a","#2a4a9f","#f4e91c"]},"legend":null}}},
  {"data":{"name":"pts"},"transform":[{"filter":"datum.p=='f' && datum.t=='o'"}],"mark":{"type":"point","shape":"circle","filled":true,"fill":"white","size":80,"strokeWidth":1.5,"opacity":1},"encoding":{"stroke":{"field":"g","type":"nominal","scale":{"domain":["TD1","TD2"],"range":["#e3242b","#2c55b2"]},"legend":null}}},
  {"data":{"name":"lab"},"transform":[{"filter":"datum.p=='f' && datum.t=='f'"}],"mark":{"type":"text","fontSize":11.5},"encoding":{"text":{"field":"s","type":"nominal"},"color":{"field":"g","type":"nominal","scale":{"domain":["Orgueil (CI1)","TD1","TD2"],"range":["#111111","#e3242b","#2c55b2"]},"legend":null}}},
  {"data":{"name":"lab"},"transform":[{"filter":"datum.p=='f' && datum.t=='o'"}],"mark":{"type":"text","fontSize":11.5,"fontStyle":"italic"},"encoding":{"text":{"field":"s","type":"nominal"},"color":{"field":"g","type":"nominal","scale":{"domain":["Orgueil (CI1)","TD1","TD2"],"range":["#111111","#e3242b","#2c55b2"]},"legend":null}}},
  {"data":{"name":"rlab"},"transform":[{"filter":"datum.p=='f'"}],"mark":{"type":"text","fontSize":14,"color":"black"},"encoding":{"text":{"field":"s","type":"nominal"}}},
  {"data":{"name":"rot"},"transform":[{"filter":"datum.p=='f' && datum.s=='CR'"}],"mark":{"type":"text","fontSize":14,"color":"black","angle":-57},"encoding":{"text":{"field":"s","type":"nominal"}}},
  {"data":{"name":"rot"},"transform":[{"filter":"datum.p=='f' && datum.s=='CM'"}],"mark":{"type":"text","fontSize":14,"color":"black","angle":-62},"encoding":{"text":{"field":"s","type":"nominal"}}}
 ]
}
]
}
